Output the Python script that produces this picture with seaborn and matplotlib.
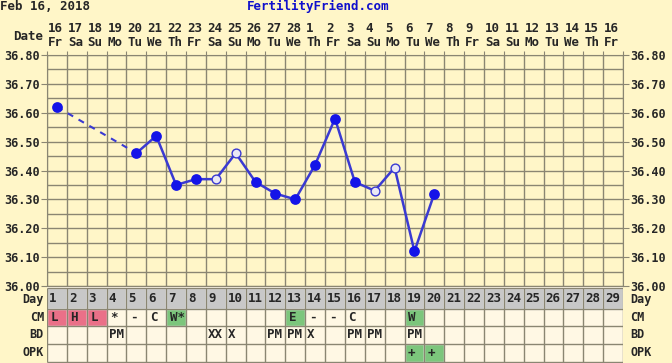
import numpy as np
import pandas as pd
import seaborn as sns
import matplotlib.pyplot as plt
import matplotlib.transforms as mtransforms

# chart data
days = list(range(1, 30))
dates = ['16', '17', '18', '19', '20', '21', '22', '23', '24', '25', '26', '27', '28',
         '1', '2', '3', '4', '5', '6', '7', '8', '9', '10', '11', '12', '13', '14', '15', '16']
weekdays = ['Fr', 'Sa', 'Su', 'Mo', 'Tu', 'We', 'Th', 'Fr', 'Sa', 'Su', 'Mo', 'Tu', 'We', 'Th',
            'Fr', 'Sa', 'Su', 'Mo', 'Tu', 'We', 'Th', 'Fr', 'Sa', 'Su', 'Mo', 'Tu', 'We', 'Th', 'Fr']
temp_days = [1, 5, 6, 7, 8, 9, 10, 11, 12, 13, 14, 15, 16, 17, 18, 19, 20]
temps = [36.62, 36.46, 36.52, 36.35, 36.37, 36.37, 36.46, 36.36, 36.32, 36.30,
         36.42, 36.58, 36.36, 36.33, 36.41, 36.12, 36.32]
open_days = [9, 10, 17, 18]
cm = ['L', 'H', 'L', '*', '-', 'C', 'W*', '', '', '', '', '', 'E', '-', '-', 'C', '', '', 'W',
      '', '', '', '', '', '', '', '', '', '']
cm_colors = {1: 'pink', 2: 'pink', 3: 'pink', 7: 'green', 13: 'green', 19: 'green'}
bd = ['', '', '', 'PM', '', '', '', '', 'XX', 'X', '', 'PM', 'PM', 'X', '', 'PM', 'PM', '', 'PM',
      '', '', '', '', '', '', '', '', '', '']
opk = [''] * 18 + ['+', '+'] + [''] * 9
opk_colors = {19: 'green', 20: 'green'}

bg = '#fff6c8'
cream = '#fff8e4'
gridc = '#8a8672'
line_blue = '#3a3ad2'
dot_blue = '#1414e8'
palette = {'pink': '#ea7088', 'green': '#7cc67c'}

sns.set_style('white', {'axes.facecolor': bg, 'figure.facecolor': bg})
plt.rcParams['font.family'] = ['DejaVu Sans Mono']
plt.rcParams['font.weight'] = 'bold'
plt.rcParams['font.size'] = 9

W, H = 672, 363
fig = plt.figure(figsize=(W / 100, H / 100), dpi=100)
fig.patch.set_facecolor(bg)

# temperature chart
ax = fig.add_axes([47 / W, 1 - 286 / H, 576 / W, 231 / H])
ax.set_facecolor(bg)
ax.set_xlim(0.5, 29.5)
ax.set_ylim(36.0, 36.8)

df = pd.DataFrame({'day': temp_days, 'temp': temps})
df['open'] = df['day'].isin(open_days)
early = df[df['day'] <= 5]
late = df[df['day'] >= 5]
sns.lineplot(data=early, x='day', y='temp', ax=ax, color=line_blue, lw=1.5,
             linestyle=(0, (3, 3)), zorder=3)
sns.lineplot(data=late, x='day', y='temp', ax=ax, color=line_blue, lw=1.8, zorder=3)
sns.scatterplot(data=df[~df['open']], x='day', y='temp', ax=ax, color=dot_blue, s=60,
                edgecolor=dot_blue, linewidth=0, zorder=4)
sns.scatterplot(data=df[df['open']], x='day', y='temp', ax=ax, color='#eae8f4', s=40,
                edgecolor=line_blue, linewidth=1.0, zorder=4)

ax.set_xticks(np.arange(0.5, 29.6, 1))
ax.set_yticks(np.arange(36.0, 36.81, 0.1))
ax.set_yticks(np.arange(36.0, 36.81, 0.05), minor=True)
ax.set_yticklabels(['%.2f' % v for v in np.arange(36.0, 36.81, 0.1)])
ax.grid(True, which='both', color=gridc, lw=1.0)
ax.tick_params(axis='x', which='both', bottom=False, top=True, labelbottom=False,
               direction='out', length=3, color=gridc)
ax.tick_params(axis='y', which='major', left=True, right=True, labelleft=True, labelright=True,
               length=4, color=gridc, pad=1, labelsize=8.5)
ax.tick_params(axis='y', which='minor', left=False, right=False)
for sp in ax.spines.values():
    sp.set_color(gridc)
ax.set_xlabel('')
ax.set_ylabel('')

# date header
trans = mtransforms.blended_transform_factory(ax.transData, ax.transAxes)
for d, dt, wd in zip(days, dates, weekdays):
    ax.text(d - 0.45, 1 + 26 / 231, dt, transform=trans, ha='left', va='center', fontsize=9)
    ax.text(d - 0.45, 1 + 12 / 231, wd, transform=trans, ha='left', va='center', fontsize=9)
ax.text(0.5 - 4 / 19.86, 1 + 19 / 231, 'Date', transform=trans, ha='right', va='center', fontsize=9)

fig.text(0 / W, 1 - 6 / H, 'Feb 16, 2018', ha='left', va='center', fontsize=9)
fig.text(318 / W, 1 - 6 / H, 'FertilityFriend.com', ha='center', va='center',
         fontsize=9, color='#1010cc')

# table below the chart
tab = fig.add_axes([47 / W, 0, 576 / W, 76 / H])
tab.set_facecolor(cream)
tab.set_xlim(0.5, 29.5)
tab.set_ylim(76, 0)
tab.axis('off')
tab.add_patch(plt.Rectangle((0.5, 0), 29, 76, color=cream, zorder=0))
rows = [(1, 22), (22, 39), (39, 57), (57, 75)]
tab.bar(days, 21, bottom=1, width=1, color='#c8c8c8', zorder=1)
for d in days:
    if d in cm_colors:
        tab.bar(d, 17, bottom=22, width=1, color=palette[cm_colors[d]], zorder=1)
    if d in opk_colors:
        tab.bar(d, 18, bottom=57, width=1, color=palette[opk_colors[d]], zorder=1)
tab.vlines(np.arange(0.5, 29.6, 1), 1, 75, color=gridc, lw=1.0, zorder=2)
tab.hlines([1, 22, 39, 57, 75], 0.5, 29.5, color=gridc, lw=1.0, zorder=2)

row_vals = [[str(d) for d in days], cm, bd, opk]
offsets = [-0.4, -0.32, -0.4, -0.32]
for (top, bot), vals, off in zip(rows, row_vals, offsets):
    yc = (top + bot) / 2
    for d, v in zip(days, vals):
        if v:
            tab.text(d + off, yc, v, ha='left', va='center', fontsize=9, zorder=3)

row_names = ['Day', 'CM', 'BD', 'OPK']
for (top, bot), name in zip(rows, row_names):
    yc = (top + bot) / 2 + (1.5 if name == 'Day' else 0)
    tab.text(0.5 - 3 / 19.86, yc, name, ha='right', va='center', fontsize=8.5, clip_on=False)
    tab.text(29.5 + 7 / 19.86, yc, name, ha='left', va='center', fontsize=8.5, clip_on=False)

fig.savefig('out.png', dpi=100, facecolor=bg)
